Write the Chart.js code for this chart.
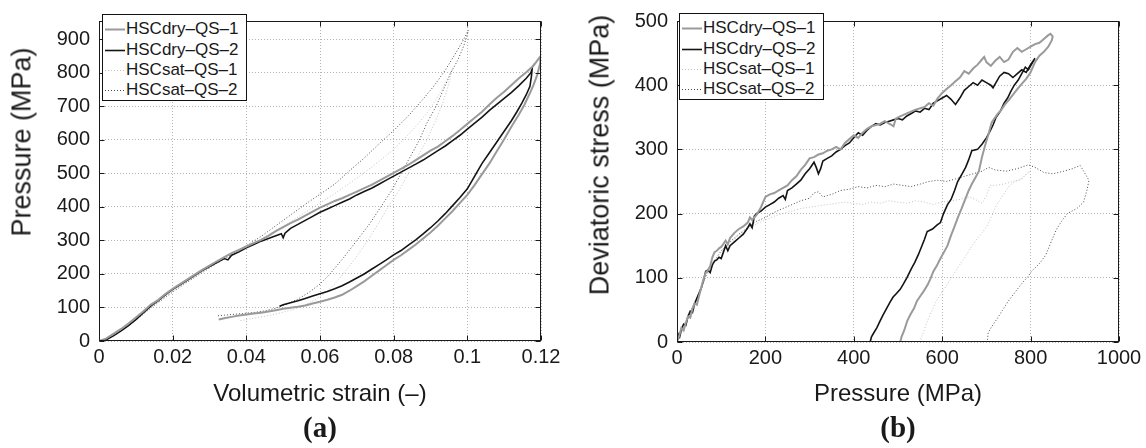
<!DOCTYPE html>
<html><head><meta charset="utf-8">
<script src="https://cdn.jsdelivr.net/npm/chart.js@4.4.1/dist/chart.umd.min.js"></script>
<style>
html,body{margin:0;padding:0;background:#fff;}
#wrap{position:relative;width:1146px;height:448px;overflow:hidden;font-family:"Liberation Sans",Arial,sans-serif;color:#1a1a1a;}
canvas{position:absolute;top:0;}
.ytitle{position:absolute;font-size:27px;white-space:nowrap;transform:translate(-50%,-50%) rotate(-90deg);}
.xtitle{position:absolute;font-size:24px;white-space:nowrap;transform:translate(-50%,-50%);}
.panel{position:absolute;font-family:"Liberation Serif","Times New Roman",serif;font-weight:bold;font-size:29px;transform:translate(-50%,-50%);}
.legend{position:absolute;box-sizing:border-box;border:1px solid #111;background:#fff;}
.legend .row{position:absolute;left:0;height:20px;line-height:20px;font-size:17px;white-space:nowrap;}
.legend svg{position:absolute;left:1px;top:0;}
.legend span{position:absolute;left:23px;top:0;}
</style></head>
<body>
<div id="wrap">
  <canvas id="ca" width="573" height="448" style="left:0px"></canvas>
  <canvas id="cb" width="568" height="448" style="left:578px"></canvas>
  <div class="ytitle" style="left:22px;top:142px">Pressure (MPa)</div>
  <div class="xtitle" style="left:320px;top:393px">Volumetric strain (–)</div>
  <div class="panel" style="left:320px;top:427px">(a)</div>
  <div class="ytitle" style="left:600px;top:155px">Deviatoric stress (MPa)</div>
  <div class="xtitle" style="left:898px;top:393px">Pressure (MPa)</div>
  <div class="panel" style="left:898px;top:427px">(b)</div>
  <div class="legend" id="lga" style="left:102px;top:14px;width:145px;height:87px"></div>
  <div class="legend" id="lgb" style="left:679px;top:13px;width:145px;height:87px"></div>
</div>
<script>
// ---------- series names ----------
const seriesNames = ['HSCdry–QS–1', 'HSCdry–QS–2', 'HSCsat–QS–1', 'HSCsat–QS–2'];

// ---------- panel (a): volumetric strain vs pressure ----------
const aXTicks = [0, 0.02, 0.04, 0.06, 0.08, 0.1, 0.12];
const aXLabels = ['0', '0.02', '0.04', '0.06', '0.08', '0.1', '0.12'];
const aYTicks = [0, 100, 200, 300, 400, 500, 600, 700, 800, 900];
const aYLabels = ['0', '100', '200', '300', '400', '500', '600', '700', '800', '900'];

const aDry1 = [[0,0],[0.002,8],[0.004,22],[0.006,36],[0.008,52],[0.01,70],[0.012,88],[0.014,108],[0.016,122],[0.018,140],[0.02,156],[0.022,170],[0.024,184],[0.026,198],[0.028,212],[0.03,225],[0.032,238],[0.034,250],[0.036,262],[0.038,272],[0.04,282],[0.042,292],[0.044,302],[0.046,314],[0.048,328],[0.05,340],[0.052,352],[0.054,362],[0.056,374],[0.058,386],[0.06,398],[0.062,408],[0.064,418],[0.066,426],[0.068,436],[0.07,446],[0.072,456],[0.074,466],[0.076,478],[0.078,490],[0.08,502],[0.082,514],[0.084,526],[0.086,540],[0.088,554],[0.09,568],[0.092,580],[0.094,596],[0.096,612],[0.098,630],[0.1,648],[0.102,666],[0.104,684],[0.106,706],[0.108,726],[0.11,744],[0.112,764],[0.114,784],[0.116,802],[0.118,822],[0.1195,845],[0.1199,850],
  [0.1198,830],[0.119,795],[0.118,765],[0.117,740],[0.1155,705],[0.114,676],[0.112,640],[0.11,602],[0.108,566],[0.106,530],[0.104,498],[0.102,466],[0.1,436],[0.098,412],[0.096,388],[0.094,366],[0.092,344],[0.09,324],[0.088,306],[0.086,288],[0.084,272],[0.082,256],[0.08,242],[0.078,226],[0.076,210],[0.074,194],[0.072,178],[0.07,164],[0.068,150],[0.066,138],[0.064,130],[0.062,123],[0.06,117],[0.058,112],[0.056,106],[0.054,102],[0.052,99],[0.05,96],[0.048,92],[0.046,88],[0.044,84],[0.042,82],[0.04,79],[0.038,76],[0.036,72],[0.034,68],[0.0325,64]];
const aDry2 = [[0,0],[0.002,4],[0.004,16],[0.006,30],[0.008,46],[0.01,64],[0.012,84],[0.014,104],[0.016,120],[0.018,138],[0.02,154],[0.022,168],[0.024,182],[0.026,196],[0.028,210],[0.03,222],[0.032,234],[0.034,246],[0.035,242],[0.036,256],[0.038,266],[0.04,278],[0.042,288],[0.044,298],[0.046,306],[0.048,314],[0.0495,320],[0.05,308],[0.0505,322],[0.052,336],[0.054,348],[0.056,360],[0.058,372],[0.06,384],[0.062,394],[0.064,404],[0.066,414],[0.068,424],[0.07,436],[0.072,446],[0.074,456],[0.076,468],[0.078,480],[0.08,492],[0.082,504],[0.084,516],[0.086,528],[0.088,540],[0.09,554],[0.092,568],[0.094,582],[0.096,598],[0.098,614],[0.1,632],[0.102,650],[0.104,668],[0.106,688],[0.108,706],[0.11,724],[0.112,742],[0.114,762],[0.116,784],[0.1172,800],[0.1176,812],
  [0.1174,790],[0.117,760],[0.116,735],[0.1148,710],[0.1135,685],[0.112,658],[0.11,626],[0.108,594],[0.106,562],[0.104,530],[0.102,492],[0.1,454],[0.098,428],[0.096,404],[0.094,380],[0.092,358],[0.09,338],[0.088,320],[0.086,302],[0.084,286],[0.082,270],[0.08,257],[0.078,242],[0.076,228],[0.074,214],[0.072,200],[0.07,188],[0.068,176],[0.066,165],[0.064,156],[0.062,148],[0.06,141],[0.058,134],[0.056,127],[0.054,120],[0.052,114],[0.05,108],[0.049,104]];
const aSat1 = [[0,0],[0.002,6],[0.004,18],[0.006,32],[0.008,48],[0.01,64],[0.012,82],[0.014,100],[0.016,116],[0.018,132],[0.02,148],[0.024,178],[0.028,206],[0.032,232],[0.036,256],[0.04,280],[0.044,304],[0.048,330],[0.052,356],[0.056,384],[0.06,412],[0.064,440],[0.068,470],[0.072,502],[0.076,536],[0.08,572],[0.083,604],[0.086,640],[0.089,680],[0.091,712],[0.093,748],[0.095,790],[0.096,815],
  [0.0955,790],[0.0945,750],[0.093,700],[0.0915,660],[0.089,600],[0.0865,550],[0.084,500],[0.0815,450],[0.0785,400],[0.0758,350],[0.073,300],[0.0698,250],[0.0663,200],[0.064,170],[0.0615,145],[0.059,125],[0.056,108],[0.053,95],[0.05,86],[0.047,78],[0.044,72],[0.041,66],[0.038,60]];
const aSat2 = [[0,0],[0.002,5],[0.004,16],[0.006,30],[0.008,46],[0.01,62],[0.012,80],[0.014,98],[0.016,114],[0.018,130],[0.02,146],[0.024,176],[0.028,204],[0.032,232],[0.036,258],[0.04,284],[0.044,312],[0.048,344],[0.052,376],[0.056,408],[0.06,438],[0.064,468],[0.068,508],[0.072,546],[0.076,588],[0.08,628],[0.084,672],[0.088,722],[0.091,762],[0.094,808],[0.097,862],[0.099,900],[0.1003,928],
  [0.1,915],[0.099,880],[0.0975,840],[0.0955,800],[0.0935,750],[0.0915,700],[0.089,650],[0.087,600],[0.0845,550],[0.082,500],[0.0795,450],[0.0765,400],[0.0735,350],[0.07,300],[0.0665,250],[0.0627,200],[0.06,170],[0.057,145],[0.054,125],[0.051,110],[0.048,98],[0.045,90],[0.042,85],[0.039,82],[0.036,79],[0.034,77],[0.032,75]];

// ---------- panel (b): pressure vs deviatoric stress ----------
const bXTicks = [0, 200, 400, 600, 800, 1000];
const bXLabels = ['0', '200', '400', '600', '800', '1000'];
const bYTicks = [0, 100, 200, 300, 400, 500];
const bYLabels = ['0', '100', '200', '300', '400', '500'];

const bDry1 = [[0,0],[5,10],[10,22],[15,18],[20,30],[25,40],[30,38],[35,52],[40,60],[45,58],[50,72],[55,85],[60,98],[65,108],[70,112],[75,118],[80,132],[85,140],[90,142],[95,146],[100,148],[110,158],[115,152],[120,162],[130,170],[140,176],[150,180],[160,186],[165,194],[170,190],[180,198],[190,210],[200,226],[210,230],[220,232],[230,236],[240,240],[250,244],[260,252],[270,258],[280,268],[290,276],[300,286],[310,288],[320,292],[330,294],[340,298],[350,300],[360,304],[370,300],[380,310],[390,316],[400,322],[410,318],[420,326],[430,332],[440,336],[450,338],[460,340],[470,344],[480,340],[490,336],[495,348],[500,350],[520,356],[540,362],[560,366],[570,372],[580,368],[590,380],[600,388],[610,394],[620,400],[630,406],[640,412],[650,422],[660,418],[670,426],[680,432],[690,440],[695,444],[700,436],[710,430],[720,438],[730,444],[740,436],[750,440],[760,452],[770,458],[780,452],[790,456],[800,460],[810,464],[820,466],[830,472],[840,478],[845,480],[850,476],
  [848,470],[840,460],[830,452],[820,446],[810,436],[800,420],[790,410],[780,402],[770,394],[762,387],[752,378],[742,370],[734,362],[725,355],[712,342],[704,322],[697,306],[690,288],[683,266],[675,256],[667,246],[660,236],[652,222],[644,208],[636,195],[628,180],[620,166],[612,150],[604,140],[596,130],[588,119],[580,110],[573,98],[567,89],[559,80],[551,72],[543,64],[536,52],[529,44],[521,33],[514,18],[508,8],[505,0]];
const bDry2 = [[0,0],[3,12],[6,8],[10,20],[15,28],[20,26],[25,40],[30,48],[35,46],[40,60],[45,68],[50,76],[55,84],[60,96],[65,110],[70,112],[75,108],[80,120],[85,126],[90,128],[95,132],[100,130],[105,140],[110,150],[115,142],[120,150],[130,156],[140,162],[150,168],[160,178],[165,184],[170,178],[175,196],[180,200],[190,204],[200,210],[210,214],[220,218],[230,224],[240,228],[245,222],[250,236],[260,240],[270,246],[280,252],[290,262],[300,270],[310,280],[315,272],[320,262],[325,270],[330,282],[340,286],[350,290],[360,296],[370,300],[380,306],[390,310],[400,318],[410,326],[420,322],[430,330],[440,336],[450,340],[460,338],[470,342],[480,344],[490,346],[500,348],[510,346],[520,352],[530,356],[540,360],[550,358],[560,364],[570,362],[580,372],[590,376],[600,380],[610,384],[620,378],[630,370],[640,380],[650,392],[660,398],[670,404],[680,400],[690,408],[700,404],[710,400],[715,396],[720,402],[730,414],[740,420],[750,418],[760,412],[770,418],[780,424],[790,420],[800,432],[810,442],
  [805,436],[800,430],[795,424],[788,428],[780,418],[772,408],[763,400],[755,390],[748,380],[740,372],[732,360],[722,350],[715,338],[708,328],[700,318],[690,308],[680,300],[667,298],[660,284],[653,272],[645,262],[635,250],[628,236],[620,222],[612,214],[603,200],[596,186],[588,182],[578,176],[566,172],[560,160],[553,148],[546,136],[538,124],[530,114],[520,100],[512,90],[505,82],[497,76],[489,70],[482,62],[474,52],[466,42],[459,32],[452,22],[445,14],[440,8],[437,0]];
const bSat1 = [[0,0],[10,15],[20,30],[30,45],[40,62],[50,78],[60,92],[70,108],[80,120],[90,132],[100,140],[120,154],[140,166],[160,176],[180,184],[200,190],[220,196],[240,200],[260,204],[280,208],[300,210],[320,212],[340,214],[360,216],[380,218],[400,216],[420,214],[440,218],[460,216],[480,220],[500,218],[520,216],[540,220],[560,218],[580,214],[600,218],[620,220],[640,222],[660,226],[675,222],[690,216],[700,228],[708,244],[720,244],[740,246],[760,250],[780,254],[790,260],[798,266],
  [790,262],[784,258],[775,252],[765,250],[753,244],[745,236],[735,226],[723,214],[712,196],[701,180],[690,170],[678,160],[663,145],[650,130],[637,118],[625,104],[612,90],[600,78],[587,64],[575,46],[565,30],[558,16],[552,6],[550,0]];
const bSat2 = [[0,0],[10,16],[20,32],[30,46],[40,62],[50,78],[60,94],[70,110],[80,122],[90,132],[100,142],[120,156],[140,168],[160,178],[180,188],[200,194],[220,202],[240,208],[260,214],[280,220],[300,224],[310,232],[320,234],[330,226],[350,230],[370,236],[390,238],[410,242],[430,240],[450,244],[470,242],[490,246],[510,244],[530,242],[550,246],[570,250],[590,252],[610,250],[630,254],[650,258],[670,262],[690,266],[705,272],[720,268],[745,266],[770,270],[795,276],[810,272],[830,264],[850,262],[875,266],[895,270],[912,275],[920,266],[932,252],
  [928,238],[920,218],[905,208],[883,200],[870,188],[859,176],[850,162],[840,145],[834,135],[820,122],[802,110],[794,102],[785,95],[772,84],[761,74],[748,62],[736,49],[724,36],[712,24],[704,14],[702,0]];

// ---------- styles ----------
const styles = [
  {color: '#9a9a9a', width: 2, dash: []},
  {color: '#141414', width: 1.6, dash: []},
  {color: '#c2c2c2', width: 1, dash: [1, 2]},
  {color: '#4a4a4a', width: 1, dash: [1, 2]}
];

const toXY = arr => arr.map(p => ({x: p[0], y: p[1]}));
const FONT = '"Liberation Sans", Arial, sans-serif';

const framePlugin = {
  id: 'frame',
  afterDraw(chart) {
    const {ctx, chartArea: a, scales} = chart;
    const L = Math.round(a.left) + 0.5, R = Math.round(a.right) - 0.5;
    const T = Math.round(a.top) + 0.5, B = Math.round(a.bottom) - 0.5;
    ctx.save();
    ctx.setLineDash([]);
    ctx.strokeStyle = '#1a1a1a';
    ctx.lineWidth = 1;
    ctx.strokeRect(L, T, R - L, B - T);
    ctx.beginPath();
    scales.x.ticks.forEach(t => {
      const px = Math.round(scales.x.getPixelForValue(t.value)) + 0.5;
      ctx.moveTo(px, B); ctx.lineTo(px, B - 5);
      ctx.moveTo(px, T); ctx.lineTo(px, T + 5);
    });
    scales.y.ticks.forEach(t => {
      const py = Math.round(scales.y.getPixelForValue(t.value)) + 0.5;
      ctx.moveTo(L, py); ctx.lineTo(L + 5, py);
      ctx.moveTo(R, py); ctx.lineTo(R - 5, py);
    });
    ctx.stroke();
    ctx.restore();
  }
};

function makeChart(id, series, xr, yr, pad, xh, yw) {
  const datasets = series.map((s, i) => ({
    label: seriesNames[i],
    data: toXY(s),
    borderColor: styles[i].color,
    borderWidth: styles[i].width,
    borderDash: styles[i].dash,
    pointRadius: 0,
    fill: false,
    tension: 0,
    showLine: true
  }));
  const axis = (r, size, isX) => ({
    type: 'linear',
    position: isX ? 'bottom' : 'left',
    min: r.min, max: r.max,
    afterBuildTicks: s => { s.ticks = r.ticks.map(v => ({value: v})); },
    afterFit: s => { if (isX) s.height = size; else s.width = size; },
    grid: {color: '#b4b4b4', lineWidth: 1, drawTicks: false},
    border: {display: false, dash: [1, 2]},
    ticks: {
      autoSkip: false, maxRotation: 0, minRotation: 0,
      padding: isX ? 4 : 9,
      color: '#1a1a1a',
      font: {family: FONT, size: 20},
      callback: (v, i) => r.labels[i]
    }
  });
  return new Chart(document.getElementById(id), {
    type: 'scatter',
    data: {datasets},
    options: {
      responsive: false, animation: false, devicePixelRatio: 1,
      layout: {padding: pad},
      plugins: {legend: {display: false}, tooltip: {enabled: false}},
      scales: {x: axis(xr, xh, true), y: axis(yr, yw, false)}
    },
    plugins: [framePlugin]
  });
}

makeChart('ca', [aDry1, aDry2, aSat1, aSat2],
  {min: 0, max: 0.12, ticks: aXTicks, labels: aXLabels},
  {min: 0, max: 955, ticks: aYTicks, labels: aYLabels},
  {left: 0, right: 32, top: 12, bottom: 0}, 107, 99);
makeChart('cb', [bDry1, bDry2, bSat1, bSat2],
  {min: 0, max: 1000, ticks: bXTicks, labels: bXLabels},
  {min: 0, max: 500, ticks: bYTicks, labels: bYLabels},
  {left: 0, right: 27, top: 12, bottom: 0}, 106, 99);

// ---------- legends (HTML, built from series names and styles) ----------
function buildLegend(id) {
  const box = document.getElementById(id);
  const rowTops = [4, 25, 45, 65];
  seriesNames.forEach((name, i) => {
    const row = document.createElement('div');
    row.className = 'row';
    row.style.top = rowTops[i] + 'px';
    const st = styles[i];
    row.innerHTML = '<svg width="22" height="20"><line x1="1" y1="10.5" x2="21" y2="10.5" stroke="' + st.color +
      '" stroke-width="' + st.width + '" stroke-dasharray="' + (st.dash.length ? st.dash.join(',') : 'none') + '"/></svg><span></span>';
    row.querySelector('span').textContent = name;
    box.appendChild(row);
  });
}
buildLegend('lga');
buildLegend('lgb');
</script>
</body></html>
